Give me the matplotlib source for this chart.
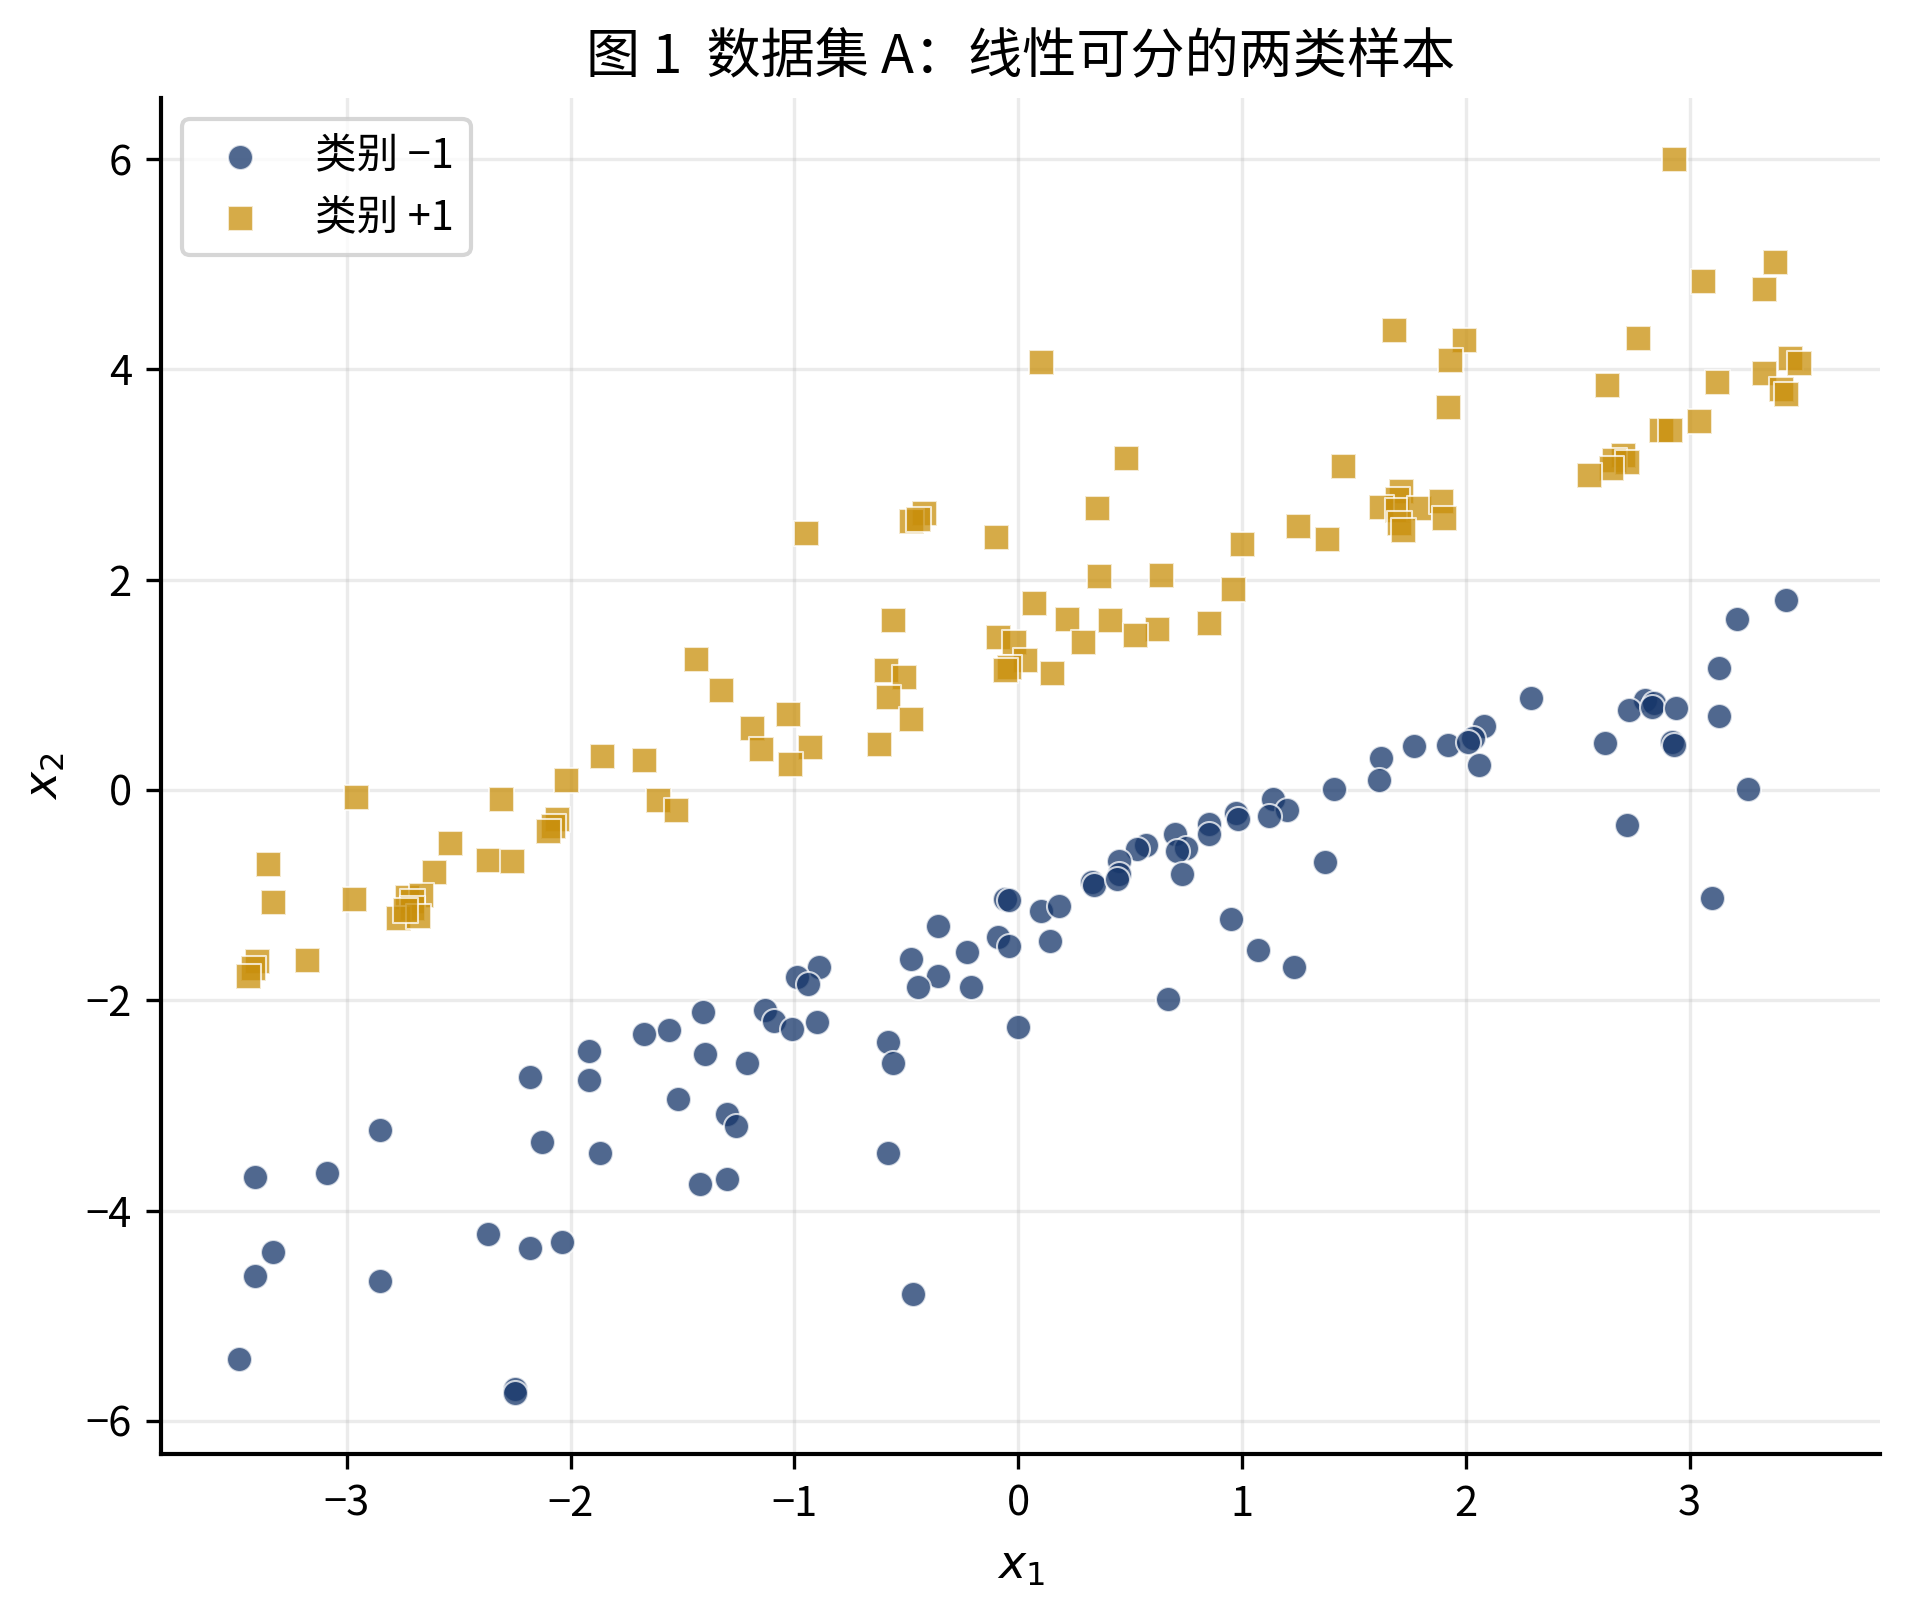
import numpy as np
import matplotlib
matplotlib.use("Agg")
import matplotlib.pyplot as plt

plt.rcParams['font.family'] = ['Noto Sans CJK SC', 'DejaVu Sans']
plt.rcParams['axes.unicode_minus'] = True

# 类别 -1 (圆点)
neg_x = [3.43, 3.21, 3.13, 2.29, 2.80, 2.84, 2.73, 2.83, 2.94, 3.13,
         2.08, 1.92, 1.77, 2.03, 2.01, 2.62, 2.92, 2.93, 1.62, 2.06,
         1.61, 1.41, 3.26, 1.14, 1.20, 1.12, 0.975, 0.98, 2.72, 0.85,
         0.85, 0.70, 0.57, 0.53, 0.75, 0.71, 0.45, 1.37, 0.45, 0.73,
         0.33, 0.34, 0.44, -0.06, -0.04, 3.10, 0.10, 0.18, 0.95, -0.36,
         -0.09, 0.14, -0.04, -0.23, 1.07, -0.48, -0.89, 1.23, -0.36, -0.99,
         -0.94, -0.45, -0.21, 0.67, -1.41, -1.13, -1.09, -0.90, -1.01, -1.56,
         -1.67, 0.00, -0.58, -1.92, -1.40, -1.21, -0.56, -2.18, -1.92, -1.52,
         -1.30, -1.26, -2.85, -2.13, -1.87, -0.58, -3.09, -3.41, -1.30, -1.42,
         -2.37, -2.04, -2.18, -3.33, -3.41, -2.85, -0.47, -3.48, -2.25, -2.25]
neg_y = [1.81, 1.63, 1.16, 0.87, 0.86, 0.83, 0.76, 0.79, 0.78, 0.70,
         0.61, 0.43, 0.42, 0.49, 0.46, 0.45, 0.46, 0.43, 0.30, 0.24,
         0.09, 0.01, 0.01, -0.09, -0.19, -0.25, -0.22, -0.28, -0.33, -0.32,
         -0.42, -0.42, -0.52, -0.56, -0.55, -0.58, -0.68, -0.69, -0.80, -0.80,
         -0.88, -0.90, -0.85, -1.04, -1.05, -1.03, -1.15, -1.10, -1.23, -1.29,
         -1.40, -1.44, -1.48, -1.54, -1.52, -1.61, -1.68, -1.68, -1.77, -1.78,
         -1.85, -1.87, -1.87, -1.99, -2.11, -2.09, -2.20, -2.21, -2.27, -2.28,
         -2.32, -2.25, -2.40, -2.48, -2.51, -2.60, -2.60, -2.73, -2.76, -2.94,
         -3.08, -3.20, -3.23, -3.35, -3.45, -3.45, -3.64, -3.68, -3.70, -3.75,
         -4.22, -4.30, -4.36, -4.39, -4.62, -4.67, -4.79, -5.41, -5.70, -5.74]

# 类别 +1 (方块)
pos_x = [2.93, 3.38, 3.06, 3.33, 1.68, 2.77, 1.99, 1.93, 0.10, 3.45,
         3.49, 2.63, 3.12, 3.33, 3.41, 3.43, 1.92, 3.04, 2.87, 2.91,
         0.48, 2.70, 2.66, 2.72, 2.65, 2.55, 1.45, 1.71, 1.69, 1.62,
         1.69, 1.79, 1.89, 1.90, 1.70, 1.72, 0.35, -0.42, -0.48, -0.45,
         1.25, 1.38, 1.00, -0.95, -0.10, 0.36, 0.64, 0.96, 0.07, 0.22,
         0.41, 0.85, 0.62, 0.52, 0.29, -0.56, -0.09, -0.02, 0.03, -0.04,
         -0.06, 0.15, -1.44, -0.59, -0.51, -1.33, -0.58, -1.03, -0.48, -1.19,
         -1.15, -0.93, -0.62, -1.02, -1.86, -1.67, -2.02, -2.96, -2.31, -1.61,
         -1.53, -2.06, -2.08, -2.10, -2.54, -3.35, -2.37, -2.26, -2.61, -2.73,
         -2.67, -2.97, -2.71, -2.71, -2.77, -2.68, -2.74, -3.33, -3.18, -3.40,
         -3.42, -3.44]
pos_y = [6.00, 5.02, 4.84, 4.76, 4.37, 4.30, 4.28, 4.09, 4.07, 4.11,
         4.06, 3.85, 3.88, 3.97, 3.81, 3.77, 3.64, 3.51, 3.42, 3.42,
         3.16, 3.19, 3.14, 3.12, 3.06, 3.00, 3.08, 2.84, 2.77, 2.69,
         2.66, 2.68, 2.75, 2.59, 2.54, 2.47, 2.68, 2.63, 2.56, 2.58,
         2.51, 2.39, 2.34, 2.44, 2.41, 2.03, 2.04, 1.91, 1.78, 1.63,
         1.62, 1.59, 1.53, 1.47, 1.41, 1.62, 1.45, 1.41, 1.24, 1.17,
         1.14, 1.11, 1.25, 1.14, 1.07, 0.95, 0.88, 0.72, 0.67, 0.59,
         0.39, 0.41, 0.44, 0.25, 0.32, 0.28, 0.09, -0.07, -0.09, -0.10,
         -0.19, -0.28, -0.34, -0.39, -0.50, -0.70, -0.67, -0.68, -0.78, -1.02,
         -1.00, -1.04, -1.06, -1.12, -1.22, -1.20, -1.14, -1.07, -1.62, -1.63,
         -1.69, -1.77]

labels = ['类别 −1', '类别 +1']
title = '图 1  数据集 A：线性可分的两类样本'

fig = plt.figure(figsize=(1908 / 300, 1608 / 300), dpi=300)
ax = fig.add_axes([0.0844, 0.0955, 0.9853 - 0.0844, 0.939 - 0.0955])

ax.scatter(neg_x, neg_y, s=36, marker='o', color='#16366a', alpha=0.75,
           edgecolors='white', linewidths=0.5, label=labels[0])
ax.scatter(pos_x, pos_y, s=36, marker='s', color='#c98f0b', alpha=0.75,
           edgecolors='white', linewidths=0.5, label=labels[1])

ax.set_xlim(-3.83, 3.85)
ax.set_ylim(-6.32, 6.58)
ax.set_xticks([-3, -2, -1, 0, 1, 2, 3])
ax.set_yticks([-6, -4, -2, 0, 2, 4, 6])
ax.tick_params(labelsize=10, width=0.8, length=3.5)

ax.grid(True, color='#b0b0b0', alpha=0.25, linewidth=0.8)
ax.set_axisbelow(True)
for side in ['top', 'right']:
    ax.spines[side].set_visible(False)
for side in ['left', 'bottom']:
    ax.spines[side].set_linewidth(1.0)

ax.set_xlabel('$x_1$', fontsize=11)
ax.set_ylabel('$x_2$', fontsize=11)
ax.set_title(title, fontsize=13)
ax.legend(loc='upper left', fontsize=10)

fig.savefig('out.png', dpi=300)
